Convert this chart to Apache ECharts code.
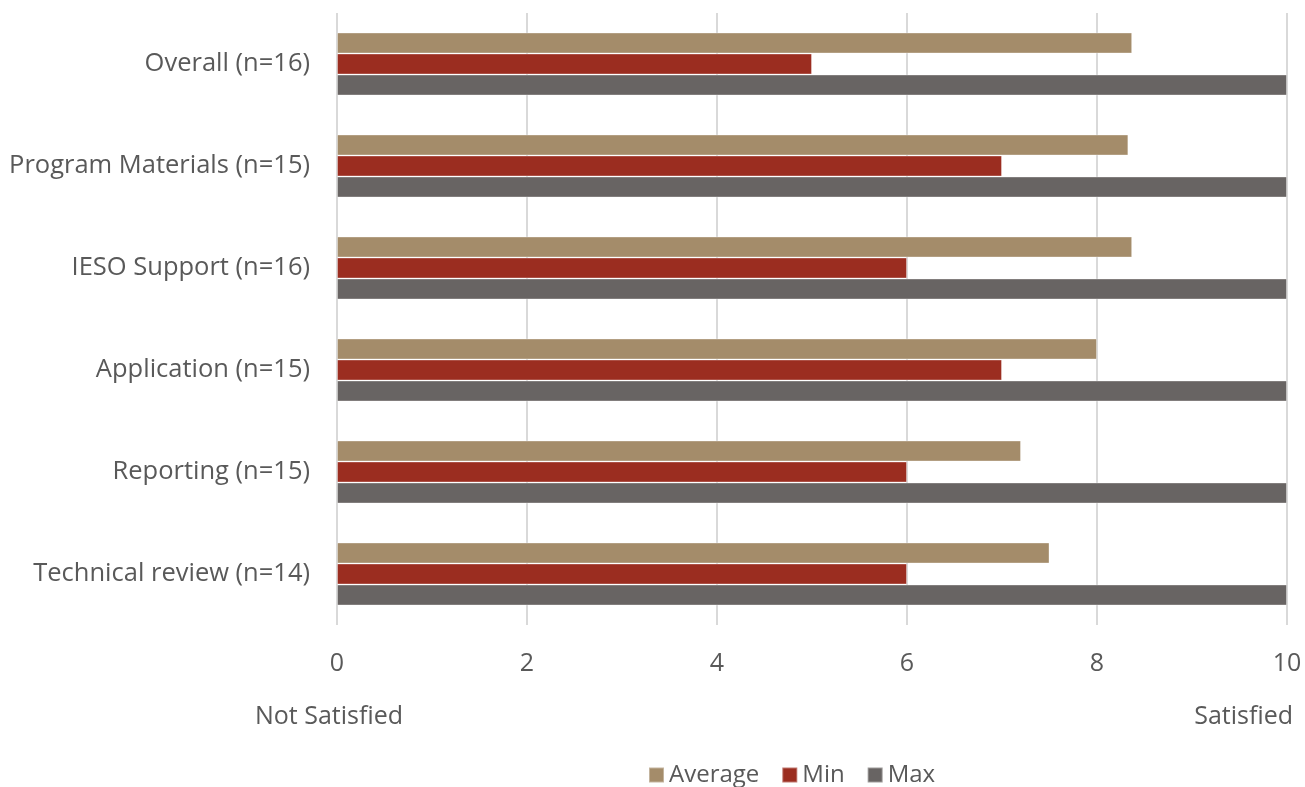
<!DOCTYPE html>
<html>
<head>
<meta charset="utf-8">
<script src="https://cdn.jsdelivr.net/npm/echarts@6/dist/echarts.min.js"></script>
<style>
  html, body { margin: 0; padding: 0; background: #ffffff; }
  #chart { width: 1305px; height: 787px; }
</style>
</head>
<body>
<div id="chart"></div>
<script>
// Satisfaction scores by program area (0 = not satisfied, 10 = satisfied)
const categories = [
  'Overall (n=16)',
  'Program Materials (n=15)',
  'IESO Support (n=16)',
  'Application (n=15)',
  'Reporting (n=15)',
  'Technical review (n=14)'
];
const averageScores = [8.37, 8.33, 8.37, 8.0, 7.2, 7.5];
const minScores = [5, 7, 6, 7, 6, 6];
const maxScores = [10, 10, 10, 10, 10, 10];
const seriesNames = ['Average', 'Min', 'Max'];
const seriesColors = ['#A48C6A', '#9B2D20', '#686463'];

const textColor = '#595959';
const fontFamily = '"Open Sans", "Noto Sans", sans-serif';

const chart = echarts.init(document.getElementById('chart'), null, { renderer: 'canvas' });

const dataSets = [averageScores, minScores, maxScores];

chart.setOption({
  animation: false,
  textStyle: { fontFamily: fontFamily },
  grid: { left: 337, right: 18, top: 13, bottom: 162, containLabel: false },
  legend: {
    data: seriesNames,
    left: 643,
    top: 758,
    itemWidth: 15,
    itemHeight: 15,
    itemGap: 22,
    icon: 'rect',
    textStyle: { color: textColor, fontSize: 24, fontFamily: fontFamily }
  },
  xAxis: {
    type: 'value',
    min: 0,
    max: 10,
    interval: 2,
    axisLine: { show: false },
    axisTick: { show: false },
    splitLine: { show: true, lineStyle: { color: '#D9D9D9', width: 2 } },
    axisLabel: { color: textColor, fontSize: 25, margin: 26, fontFamily: fontFamily }
  },
  yAxis: {
    type: 'category',
    data: categories,
    inverse: true,
    axisLine: { show: false },
    axisTick: { show: false },
    axisLabel: { color: textColor, fontSize: 25.5, margin: 27, padding: [4, 0, 0, 0], fontFamily: fontFamily }
  },
  series: seriesNames.map((name, i) => ({
    name: name,
    type: 'bar',
    data: dataSets[i],
    barWidth: 21,
    barGap: '0%',
    barCategoryGap: '38%',
    itemStyle: { color: seriesColors[i], borderColor: 'rgba(255,255,255,0.35)', borderWidth: 1 }
  })),
  graphic: [
    {
      type: 'text',
      left: 255,
      top: 704,
      style: { text: 'Not Satisfied', fill: textColor, font: '25px ' + fontFamily }
    },
    {
      type: 'text',
      right: 12,
      top: 704,
      style: { text: 'Satisfied', fill: textColor, font: '25px ' + fontFamily }
    }
  ]
});
</script>
</body>
</html>
